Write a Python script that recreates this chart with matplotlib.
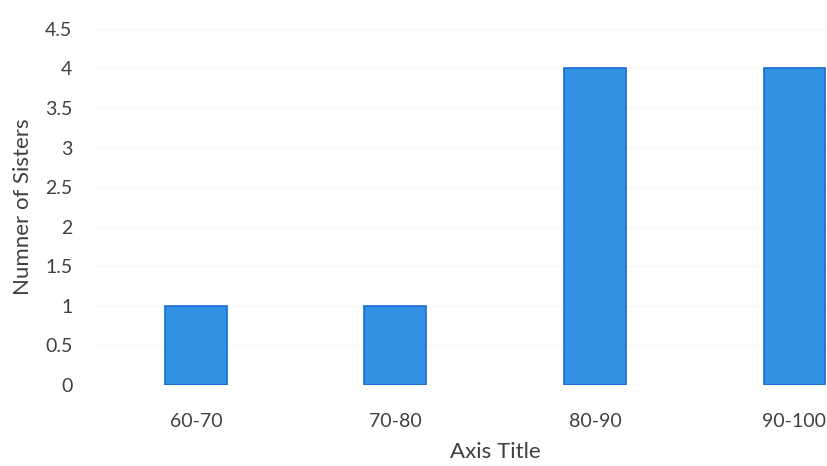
import numpy as np
import matplotlib.pyplot as plt

# Данные
categories = ["60-70", "70-80", "80-90", "90-100"]
sisters = [1, 1, 4, 4]
y_ticks = [0, 0.5, 1, 1.5, 2, 2.5, 3, 3.5, 4, 4.5]

plt.rcParams['font.family'] = ['Lato', 'DejaVu Sans']

fig = plt.figure(figsize=(8.28, 4.66), dpi=100)
# ось шире картинки: правый край отрезан, как в скане
ax = fig.add_axes([0.116, 0.174, 0.964, 0.764])

x = np.arange(len(categories))
ax.bar(x, sisters, width=0.31, color='#3391e3', edgecolor='#1a6ad8', linewidth=1.2, zorder=3)

ax.set_xlim(-0.5, len(categories) - 0.5)
ax.set_ylim(0, 4.5)
ax.set_yticks(y_ticks)
ax.set_yticklabels([f"{t:g}" for t in y_ticks])
ax.set_xticks(x)
ax.set_xticklabels(categories)

ax.grid(axis='y', color='#f7f7f7', linewidth=0.8, zorder=0)
for s in ax.spines.values():
    s.set_visible(False)
ax.tick_params(length=0, labelsize=14, colors='#404040')
ax.tick_params(axis='y', pad=17)
ax.tick_params(axis='x', pad=20)

ax.set_ylabel("Numner of Sisters", fontsize=16, color='#404040', labelpad=9)
ax.set_xlabel("Axis Title", fontsize=16, color='#404040', labelpad=9)

fig.savefig("out.png", dpi=100)
